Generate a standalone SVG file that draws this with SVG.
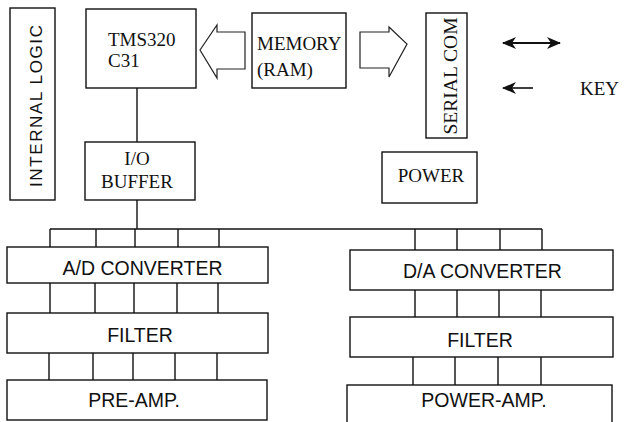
<svg xmlns="http://www.w3.org/2000/svg" width="626" height="422" viewBox="0 0 626 422">
<style>
.box{fill:#fff;stroke:#111;stroke-width:1.4}
.ln{fill:none;stroke:#111;stroke-width:1.4}
.blk{fill:#fff;stroke:#222;stroke-width:1.2}
.serif{font-family:"Liberation Serif","Times New Roman",serif;font-size:19px;fill:#111}
.sans{font-family:"Liberation Sans",Arial,sans-serif;font-size:19.5px;fill:#111}
</style>
<defs>
<marker id="ah" viewBox="0 0 14 12" refX="13" refY="6" markerWidth="14" markerHeight="12" markerUnits="userSpaceOnUse" orient="auto-start-reverse">
<path d="M0,0 L14,6 L0,12 L4,6 Z" fill="#111"/>
</marker>
</defs>
<rect width="626" height="422" fill="#fff"/>
<g id="connectors">
<line class="ln" x1="137" y1="88" x2="137" y2="142"/>
<line class="ln" x1="137" y1="200" x2="137" y2="229"/>
<line class="ln" x1="50" y1="229" x2="542" y2="229"/>
<path class="ln" d="M50,229V247M96,229V247M135,229V247M178,229V247M219,229V247"/>
<path class="ln" d="M50,283V313M95,283V313M134,283V313M177,283V313M218,283V313"/>
<path class="ln" d="M49,353V380M93,353V380M133,353V380M175,353V380M217,353V380"/>
<path class="ln" d="M415,229V250M457,229V250M500,229V250M542,229V250"/>
<path class="ln" d="M415,290V317M457,290V317M499,290V317M541,290V317"/>
<path class="ln" d="M413,357V385M455,357V385M498,357V385M541,357V385"/>
<path class="blk" d="M200,50 L217,25 L217,32 L245,32 L245,69 L217,69 L217,78 Z"/>
<path class="blk" d="M360,32 L389,32 L389,27 L407,44 L389,77 L389,68 L360,68 Z"/>
<line class="ln" style="stroke-width:1.8" x1="503" y1="43" x2="560" y2="43" marker-start="url(#ah)" marker-end="url(#ah)"/>
<line class="ln" style="stroke-width:1.6" x1="533" y1="88" x2="503" y2="88" marker-end="url(#ah)"/>
</g>
<g id="internal-logic">
<rect class="box" x="10" y="8" width="45" height="192"/>
<text class="sans" style="font-size:17px" transform="translate(42,106) rotate(-90)" text-anchor="middle" textLength="162" lengthAdjust="spacing">INTERNAL  LOGIC</text>
</g>
<g id="tms320">
<rect class="box" x="86" y="9" width="110" height="79"/>
<text class="serif" x="108" y="46">TMS320</text>
<text class="serif" x="108" y="67">C31</text>
</g>
<g id="memory">
<rect class="box" x="252" y="13" width="94" height="75"/>
<text class="serif" x="257" y="50">MEMORY</text>
<text class="serif" x="257" y="76">(RAM)</text>
</g>
<g id="serial-com">
<rect class="box" x="426" y="13" width="41" height="125"/>
<text class="serif" transform="translate(457,76) rotate(-90)" text-anchor="middle" textLength="117" lengthAdjust="spacingAndGlyphs">SERIAL COM</text>
</g>
<g id="key">
<text class="serif" x="580" y="95">KEY</text>
</g>
<g id="power">
<rect class="box" x="382" y="152" width="95" height="51"/>
<text class="serif" x="431" y="182" text-anchor="middle">POWER</text>
</g>
<g id="io-buffer">
<rect class="box" x="85" y="142" width="110" height="58"/>
<text class="serif" x="137" y="165" text-anchor="middle">I/O</text>
<text class="serif" x="137" y="188" text-anchor="middle">BUFFER</text>
</g>
<g id="ad-converter">
<rect class="box" x="7" y="247" width="261" height="36"/>
<text class="sans" x="142.5" y="275" text-anchor="middle">A/D CONVERTER</text>
</g>
<g id="filter-left">
<rect class="box" x="7" y="313" width="261" height="40"/>
<text class="sans" x="140" y="342" text-anchor="middle">FILTER</text>
</g>
<g id="pre-amp">
<rect class="box" x="7" y="380" width="260" height="40"/>
<text class="sans" x="134" y="407" text-anchor="middle">PRE-AMP.</text>
</g>
<g id="da-converter">
<rect class="box" x="350" y="250" width="263" height="40"/>
<text class="sans" x="482.5" y="278" text-anchor="middle">D/A CONVERTER</text>
</g>
<g id="filter-right">
<rect class="box" x="350" y="317" width="263" height="40"/>
<text class="sans" x="480" y="347" text-anchor="middle">FILTER</text>
</g>
<g id="power-amp">
<rect class="box" x="347" y="385" width="265" height="45"/>
<text class="sans" x="484" y="407" text-anchor="middle">POWER-AMP.</text>
</g>
</svg>
